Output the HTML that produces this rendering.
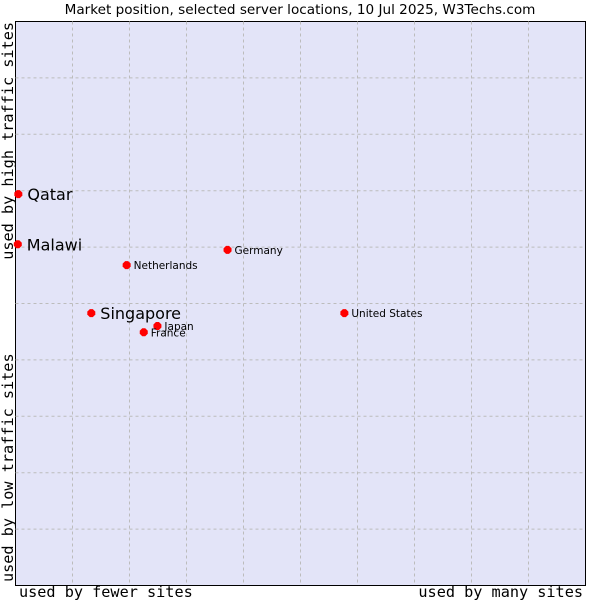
<!DOCTYPE html>
<html><head><meta charset="utf-8"><style>
body{margin:0;background:#fff;}
svg text{font-family:"DejaVu Sans","Liberation Sans",sans-serif;}
.mono{font-family:"DejaVu Sans Mono","Liberation Mono",monospace !important;}
</style></head><body>
<svg id="chart" width="600" height="600" viewBox="0 0 600 600">
<text x="300" y="14" text-anchor="middle" font-size="13.6" fill="#000">Market position, selected server locations, 10 Jul 2025, W3Techs.com</text>
<rect x="15.5" y="21.5" width="570" height="564" fill="#e3e4f8" stroke="#000" stroke-width="1"/>
<g id="grid"></g>
<g id="points"></g>
<text class="mono" x="19" y="597" font-size="15.2" fill="#000">used by fewer sites</text>
<text class="mono" x="583" y="597" font-size="15.2" text-anchor="end" fill="#000">used by many sites</text>
<text class="mono" transform="translate(13,22) rotate(-90)" font-size="15.2" text-anchor="end" fill="#000">used by high traffic sites</text>
<text class="mono" transform="translate(13,582) rotate(-90)" font-size="15.2" fill="#000">used by low traffic sites</text>
</svg>
<script>
const names=["Qatar","Malawi","Netherlands","Germany","Singapore","Japan","France","United States"];
const xs=[0.005,0.004,0.195,0.372,0.133,0.249,0.225,0.577];
const ys=[0.694,0.605,0.568,0.595,0.483,0.460,0.449,0.483];
const big=[true,true,false,false,true,false,false,false];
const L=15.5,R=585.5,T=21.5,B=585.5;
const sx=v=>L+v*(R-L), sy=v=>B-v*(B-T);
const NS="http://www.w3.org/2000/svg";
const g=document.getElementById('grid');
for(let i=1;i<10;i++){
  const x=L+i*(R-L)/10,y=T+i*(B-T)/10;
  const v=document.createElementNS(NS,'line');
  v.setAttribute('x1',x);v.setAttribute('x2',x);v.setAttribute('y1',T);v.setAttribute('y2',B);
  v.setAttribute('stroke','#bcbcbc');v.setAttribute('stroke-dasharray','3,3');
  
  
  g.appendChild(v);
  const h=document.createElementNS(NS,'line');
  h.setAttribute('x1',L);h.setAttribute('x2',R);h.setAttribute('y1',y);h.setAttribute('y2',y);
  h.setAttribute('stroke','#bcbcbc');h.setAttribute('stroke-dasharray','3,3');
  
  
  g.appendChild(h);
}
const p=document.getElementById('points');
names.forEach((n,i)=>{
  const x=sx(xs[i]),y=sy(ys[i]);
  const c=document.createElementNS(NS,'polygon');
  c.setAttribute('points',`${x-4},${y-1.5} ${x-1.5},${y-4} ${x+1.5},${y-4} ${x+4},${y-1.5} ${x+4},${y+1.5} ${x+1.5},${y+4} ${x-1.5},${y+4} ${x-4},${y+1.5}`);
  c.setAttribute('fill','#ff0000');
  
  
  p.appendChild(c);
  const t=document.createElementNS(NS,'text');
  t.setAttribute('x',x+(big[i]?9:7));
  t.setAttribute('y',y+(big[i]?6:4));
  t.setAttribute('font-size',big[i]?16:10.5);
  t.setAttribute('fill','#000');
  t.textContent=n;
  
  
  p.appendChild(t);
});
</script>
</body></html>
